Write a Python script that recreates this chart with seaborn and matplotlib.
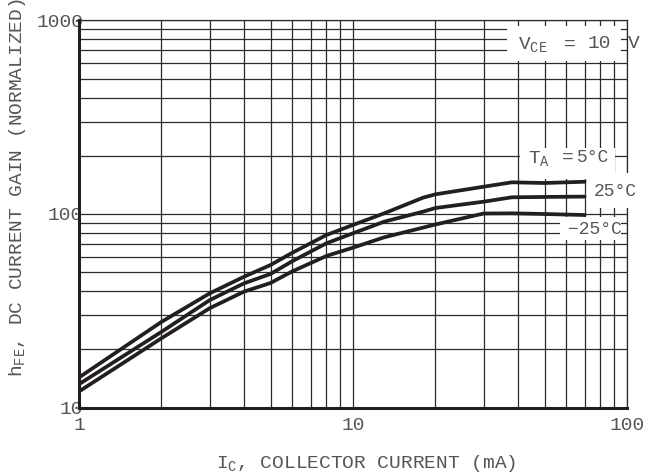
import matplotlib
matplotlib.use("Agg")
import matplotlib.pyplot as plt
import numpy as np
import pandas as pd
import seaborn as sns
from matplotlib.patches import Rectangle
from matplotlib.ticker import FixedLocator, FixedFormatter, NullFormatter

# Collector current (mA) and normalized DC current gain for three ambient temperatures
collector_current_ma = [1, 2, 3, 4, 5, 6, 8, 10, 13, 18, 20, 30, 38, 50, 70]
hfe_high_temp = [14.3, 27.7, 38.9, 47.4, 54.5, 63.0, 77.9, 87.8, 100.8, 121.4, 126.4, 138.4, 145.8, 144.6, 146.8]
hfe_25c = [13.2, 24.6, 35.9, 43.8, 49.0, 57.0, 70.6, 79.5, 91.3, 102.8, 107.4, 115.8, 122.0, 122.5, 123.0]
hfe_minus_25c = [12.1, 22.8, 32.6, 39.7, 44.0, 50.5, 60.7, 67.0, 75.8, 85.0, 88.3, 100.6, 100.8, 100.0, 98.8]
series_names = ["high", "25C", "-25C"]

x_major = [1, 10, 100]
x_major_labels = ["1", "10", "100"]
y_major = [10, 100, 1000]
y_major_labels = ["10", "100", "1000"]

df = pd.DataFrame({
    "ic": collector_current_ma * 3,
    "hfe": hfe_high_temp + hfe_25c + hfe_minus_25c,
    "series": sum([[n] * len(collector_current_ma) for n in series_names], []),
})

sns.set_theme(style="white")
plt.rcParams["font.family"] = ["Liberation Mono", "DejaVu Sans Mono"]
plt.rcParams["mathtext.fontset"] = "custom"
plt.rcParams["mathtext.rm"] = "Liberation Mono"
plt.rcParams["mathtext.it"] = "Liberation Mono"
plt.rcParams["mathtext.default"] = "rm"

TEXT = "#555555"
INK = "#231f20"
GRID = "#2a2a2a"

fig = plt.figure(figsize=(6.54, 4.73), dpi=100)
ax = fig.add_axes([79 / 654, 1 - 407.5 / 473, 548 / 654, 387 / 473])

sns.lineplot(data=df, x="ic", y="hfe", hue="series", palette=[INK] * 3,
             linewidth=2.7, legend=False, ax=ax, zorder=2)

ax.set_xscale("log")
ax.set_yscale("log")
ax.set_xlim(1, 100)
ax.set_ylim(10, 1000)

ax.xaxis.set_major_locator(FixedLocator(x_major))
ax.xaxis.set_major_formatter(FixedFormatter(x_major_labels))
ax.xaxis.set_minor_locator(FixedLocator([m * d for d in (1, 10) for m in range(2, 10)]))
ax.xaxis.set_minor_formatter(NullFormatter())
ax.yaxis.set_major_locator(FixedLocator(y_major))
ax.yaxis.set_major_formatter(FixedFormatter(y_major_labels))
ax.yaxis.set_minor_locator(FixedLocator([m * d for d in (10, 100) for m in range(2, 10)]))
ax.yaxis.set_minor_formatter(NullFormatter())

ax.set_axisbelow(True)
ax.grid(which="both", color=GRID, linewidth=0.9)
ax.tick_params(which="both", length=0)
ax.tick_params(axis="x", pad=7, labelsize=14, labelcolor=TEXT)
ax.tick_params(axis="y", pad=-3, labelsize=14, labelcolor=TEXT)

for side in ("left", "bottom"):
    ax.spines[side].set_linewidth(2.2)
    ax.spines[side].set_color(INK)
for side in ("top", "right"):
    ax.spines[side].set_linewidth(0.9)
    ax.spines[side].set_color(GRID)

ax.set_xlabel("I$_C$, COLLECTOR CURRENT (mA)", fontsize=14, color=TEXT)
ax.set_ylabel("h$_{FE}$, DC CURRENT GAIN (NORMALIZED)", fontsize=14, color=TEXT)
ax.xaxis.set_label_coords(0.524, -0.118)
ax.yaxis.set_label_coords(-0.093, 0.567)


def px_to_axes(px, py):
    return (px - 79) / 548, (407.5 - py) / 387


def white_box(x0, y0, x1, y1, z=2.2):
    ax0, ay1 = px_to_axes(x0, y0)
    ax1, ay0 = px_to_axes(x1, y1)
    ax.add_patch(Rectangle((ax0, ay0), ax1 - ax0, ay1 - ay0, transform=ax.transAxes,
                           facecolor="white", edgecolor="none", zorder=z, clip_on=False))


def label(px, py, s, size=14):
    x, y = px_to_axes(px, py)
    ax.text(x, y, s, transform=ax.transAxes, ha="left", va="center",
            fontsize=size, color=TEXT, zorder=3, clip_on=False)


# supply-voltage note in the upper right
white_box(507, 26, 621, 61)
label(518, 45, "V$_{CE}$")
label(564, 44, "=")
label(588, 44, "10")
label(628, 44, "V")

# temperature labels next to the curve ends
white_box(520, 148, 615, 179)
label(528, 159, "T$_A$")
label(562, 157, "=")
label(577, 157, "5°C", size=13)

white_box(588, 173, 650, 208, z=2.6)
label(594, 191, "25°C", size=13)

white_box(560, 217, 621, 240)
label(568, 230, "−25°C", size=13)

fig.savefig("out.png", dpi=100)
